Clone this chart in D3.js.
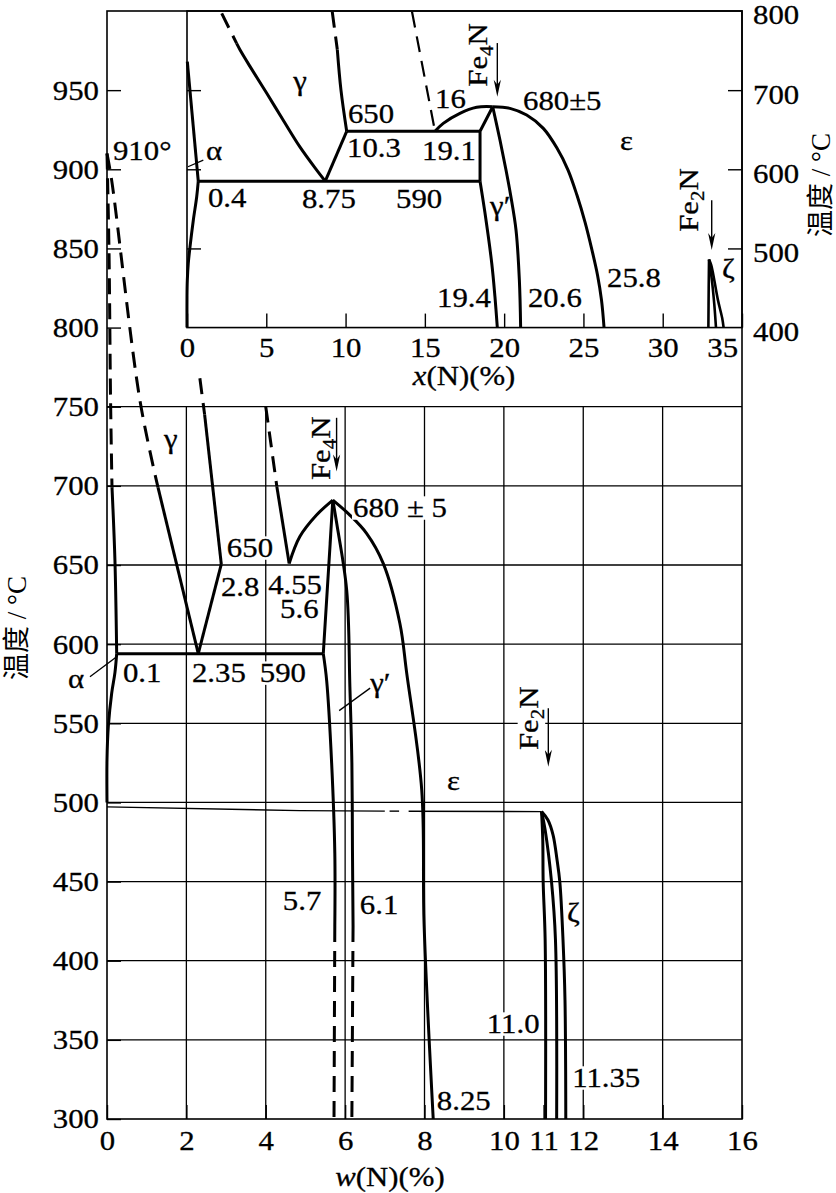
<!DOCTYPE html>
<html><head><meta charset="utf-8">
<script src="https://cdn.jsdelivr.net/npm/d3@7"></script>
<style>
body{margin:0;background:#fff}
svg{display:block}
text{font-family:"Liberation Serif",Tinos,"Times New Roman",Times,"Nimbus Roman","DejaVu Serif",serif;fill:#000;stroke:#000;stroke-width:0.3px}
text.cjk{font-family:"Liberation Serif","Noto Sans CJK SC",serif;stroke:none}
</style>
</head><body>
<svg id="c" width="836" height="1193"></svg>
<script>
// ================= DATA =================
// main diagram axes
const wTicks = [0, 2, 4, 6, 8, 10, 11, 12, 14, 16];
const wGrid = [2, 4, 6, 8, 10, 12, 14];
const tMainTicks = [300, 350, 400, 450, 500, 550, 600, 650, 700, 750, 800, 850, 900, 950];
const tGrid = [350, 400, 450, 500, 550, 600, 650, 700, 750];
// inset axes
const xInsetTicks = [0, 5, 10, 15, 20, 25, 30, 35];
const tInsetTicks = [400, 500, 600, 700, 800];
const tInsetInner = [500, 600, 700];

// ---- main diagram boundaries: [w(N) %, T °C] ----
const mA_dash = [[0, 910], [0.05, 849], [0.09, 754], [0.126, 699]];
const mA_solid = [[0.126, 699], [0.2, 653], [0.244, 594]];
const mAlphaSolvus = [[0.244, 594], [0.2, 582], [0.118, 569], [0.033, 548], [0, 527], [0, 500]];
const mEutectoid = [[0.244, 594], [5.45, 594]];
const mB_dash = [[0, 910], [0.118, 893], [0.83, 754], [1.285, 699]];
const mB_solid = [[1.285, 699], [2.3, 594]];
const mC_dash = [[2.34, 768], [2.46, 745]];
const mC_solid = [[2.46, 745], [2.88, 650.5]];
const mC_low = [[2.88, 650.5], [2.3, 594]];
const mD_dash = [[4.0, 750], [4.28, 699.5]];
const mD_solid = [[4.28, 699.5], [4.59, 651]];
const mEpsArch = [[4.59, 651], [4.86, 668], [5.28, 681.6], [5.69, 691]];
const mGpLeftUp = [[5.69, 691], [5.45, 594]];
const mGpLeft = [[5.45, 594], [5.535, 577], [5.66, 525], [5.74, 468], [5.74, 422]];
const mGpLeftDash = [[5.74, 422], [5.72, 300]];
const mGpRight = [[5.69, 691], [5.79, 676], [6.04, 634], [6.12, 573], [6.17, 525], [6.185, 470], [6.2, 422]];
const mGpRightDash = [[6.2, 422], [6.17, 300]];
const mEpsRight = [[5.69, 691], [6.1, 682], [6.54, 670], [6.96, 651], [7.38, 613], [7.55, 582], [7.93, 508], [7.99, 423], [8.22, 300]];
const m500 = [
  [[0, 497.2], [4.86, 494.8], [7.0, 494.5]],
  [[7.12, 494.5], [7.36, 494.5]],
  [[7.6, 494.4], [10.95, 494.2]]
];
const mZeta = [
  [[10.95, 494.2], [10.98, 476.3], [10.99, 449.9], [11.04, 413.1], [11.05, 300]],
  [[10.95, 494.2], [11.04, 482.6], [11.2, 449.9], [11.3, 413.1], [11.33, 300]],
  [[10.95, 494.2], [11.11, 488.9], [11.24, 479.4], [11.34, 463.6], [11.41, 449.7], [11.49, 413.1], [11.54, 375], [11.56, 300]]
];

// ---- inset boundaries: [x(N) %, T °C] ----
const iAlphaUp = [[0.02, 736], [0.71, 585]];
const iAlphaSolvus = [[0.71, 585], [0.61, 565], [0.4, 536], [0.19, 502], [0.08, 481], [0.02, 460], [0, 440], [0, 400]];
const iGammaLeftDash = [[2.19, 797], [3.13, 759]];
const iGammaLeft = [[3.13, 759], [3.34, 751], [3.97, 730], [5.03, 696], [6.07, 662], [7.13, 628], [8.18, 599], [8.72, 585]];
const iGammaRightDash = [[9.16, 799], [9.48, 751]];
const iGammaRight = [[9.48, 751], [9.71, 700], [10.07, 648]];
const iGammaLow = [[10.07, 648], [8.72, 585]];
const iEutectoid = [[0.71, 585], [18.48, 585]];
const i650 = [[10.07, 648], [18.48, 648]];
const iEpsDash = [[14.19, 799], [15.64, 648]];
const iEpsArchL = [[15.64, 648], [16.16, 658], [17.21, 670.7], [18.27, 678.3], [19.28, 679]];
const iGpLeftUp = [[19.28, 679], [18.48, 648], [18.48, 585]];
const iGpLeftLow = [[18.48, 585], [18.79, 545], [19.22, 481], [19.42, 439], [19.57, 400]];
const iGpRight = [[19.28, 679], [19.74, 636.7], [20.12, 598.8], [20.41, 567.2], [20.75, 523], [20.96, 459.9], [21.04, 400]];
const iEpsRight = [[19.28, 679], [20.37, 677], [21.42, 668.5], [22.47, 651.7], [23.33, 626.8], [24.03, 599], [24.59, 567.4], [25.1, 533.2], [25.54, 497.8], [25.89, 466.2], [26.14, 434.6], [26.3, 400]];
const iZeta = [
  [[32.92, 486], [32.9, 450], [32.88, 400]],
  [[32.92, 486], [33.1, 460], [33.25, 430], [33.36, 400]],
  [[32.92, 486], [33.06, 479], [33.48, 435], [33.75, 412], [33.84, 400]]
];

// arrows [composition, T from, T to]
const arrowsMain = [[5.785, 743, 709], [11.12, 559.5, 522.6]];
const arrowsInset = [[19.57, 759.5, 691.7], [33.09, 561, 498]];
// leader lines
const leadersMain = [[[-0.43, 579.4], [0.244, 592.1]], [[5.85, 558], [6.63, 572.2]]];
const leadersInset = [[[0.06, 603.2], [1.03, 611.6]]];

// annotations [composition, T, text]
const notesMain = [
  [0.15, 906, "910°"], [1.61, 724, "γ"], [3.02, 655, "650"], [2.87, 630.4, "2.8"],
  [4.06, 631.7, "4.55"], [4.36, 616.5, "5.6"], [0.4, 576, "0.1"], [2.14, 576, "2.35"],
  [3.85, 576, "590"], [-0.98, 572.3, "α"], [6.2, 680.3, "680 ± 5"], [6.63, 569.8, "γ′"],
  [8.57, 507.8, "ε"], [11.59, 424.5, "ζ"], [4.43, 432, "5.7"], [6.37, 429.5, "6.1"],
  [9.57, 354.3, "11.0"], [11.72, 320.2, "11.35"], [8.31, 305.7, "8.25"]
];
const notesMainRot = [[5.62, 703.7, "Fe_4N"], [10.87, 533.1, "Fe_2N"]];
const notesInset = [
  [7.13, 700, "γ"], [10.15, 658.4, "650"], [10.09, 615.4, "10.3"], [1.2, 611.6, "α"],
  [1.32, 552.2, "0.4"], [7.25, 551, "8.75"], [13.18, 551, "590"], [15.64, 677.4, "16"],
  [14.82, 611.6, "19.1"], [21.19, 674.8, "680±5"], [27.31, 624.3, "ε"], [19.11, 542.1, "γ′"],
  [15.77, 425.8, "19.4"], [21.5, 425.8, "20.6"], [26.49, 451.1, "25.8"], [33.74, 463, "ζ"]
];
const notesInsetRot = [[18.9, 704.3, "Fe_4N"], [32.25, 521, "Fe_2N"]];
const yTitle = "温度 / °C";
const xTitleMain = ["w", "(N)(%)"];
const xTitleInset = ["x", "(N)(%)"];

// ================= DRAWING =================
const svg = d3.select('#c');
const SX = 1.1, FS = 28;
const x = d3.scaleLinear().domain([0, 16]).range([107, 742]);
const y = d3.scaleLinear().domain([300, 1000]).range([1119, 11]);
const xi = d3.scaleLinear().domain([0, 35]).range([187, 742]);
const yi = d3.scaleLinear().domain([400, 800]).range([y(800), y(1000)]);

// grid
const gGrid = svg.append('g').attr('stroke', '#000').attr('stroke-width', 1.3);
gGrid.selectAll('line.h').data(tGrid).join('line').attr('class', 'h')
  .attr('x1', x(0)).attr('x2', x(16)).attr('y1', d => y(d)).attr('y2', d => y(d));
gGrid.selectAll('line.v').data(wGrid).join('line').attr('class', 'v')
  .attr('x1', d => x(d)).attr('x2', d => x(d)).attr('y1', y(300)).attr('y2', y(750));

// frames
svg.append('rect').attr('x', x(0)).attr('y', y(1000)).attr('width', x(16) - x(0)).attr('height', y(300) - y(1000))
  .attr('fill', 'none').attr('stroke', '#000').attr('stroke-width', 1.6);
svg.append('rect').attr('x', xi(0)).attr('y', yi(800)).attr('width', xi(35) - xi(0)).attr('height', yi(400) - yi(800))
  .attr('fill', 'none').attr('stroke', '#000').attr('stroke-width', 1.6);

function styleAxis(g) {
  g.attr('font-family', null).attr('font-size', null);
  g.select('.domain').remove();
  g.selectAll('line').attr('stroke', '#000').attr('stroke-width', 1.4);
  g.selectAll('text').attr('font-size', FS).attr('fill', '#000')
    .attr('transform', `scale(${SX},1)`)
    .attr('x', function () { return (+d3.select(this).attr('x') || 0) / SX; });
}
// main axes
svg.append('g').attr('transform', `translate(${x(0)},0)`)
  .call(d3.axisLeft(y).tickValues(tMainTicks).tickSize(-14).tickPadding(8).tickFormat(d3.format('d')))
  .call(styleAxis);
svg.append('g').attr('transform', `translate(0,${y(300)})`)
  .call(d3.axisBottom(x).tickValues(wTicks).tickSize(-14).tickPadding(11).tickFormat(d3.format('d')))
  .call(styleAxis);
// inset axes
svg.append('g').attr('transform', `translate(0,${yi(400)})`)
  .call(d3.axisBottom(xi).tickValues(xInsetTicks).tickSize(-14).tickPadding(10).tickFormat(d3.format('d')))
  .call(styleAxis)
  .call(g => g.selectAll('text').attr('dx', d => d === 35 ? -18 : 0));
svg.append('g').attr('transform', `translate(${xi(0)},0)`)
  .call(d3.axisRight(yi).tickValues(tInsetInner).tickSize(14).tickFormat(''))
  .call(styleAxis);
svg.append('g').attr('transform', `translate(${xi(35)},0)`)
  .call(d3.axisRight(yi).tickValues(tInsetTicks).tickSize(-14).tickPadding(11).tickFormat(d3.format('d')))
  .call(styleAxis)
  .call(g => g.selectAll('text').attr('dy', '0.46em'))
  .call(g => g.selectAll('.tick').filter(d => d === 800 || d === 400).select('line').remove());

// curves
const gc = svg.append('g').attr('fill', 'none').attr('stroke', '#000').attr('stroke-linejoin', 'round');
function draw(data, xs, ys, opt = {}) {
  const ln = d3.line().x(d => xs(d[0])).y(d => ys(d[1])).curve(opt.smooth ? d3.curveCatmullRom.alpha(0.5) : d3.curveLinear);
  gc.append('path').attr('d', ln(data))
    .attr('stroke-width', opt.w || 3)
    .attr('stroke-dasharray', opt.dash ? '16,9' : null);
}
// main
draw(mA_dash, x, y, {dash: 1, smooth: 1});
draw(mA_solid, x, y, {smooth: 1});
draw(mAlphaSolvus, x, y, {smooth: 1});
draw(mEutectoid, x, y);
draw(mB_dash, x, y, {dash: 1, smooth: 1});
draw(mB_solid, x, y);
draw(mC_dash, x, y, {dash: 1});
draw(mC_solid, x, y);
draw(mC_low, x, y);
draw(mD_dash, x, y, {dash: 1});
draw(mD_solid, x, y);
draw(mEpsArch, x, y, {smooth: 1});
draw(mGpLeftUp, x, y);
draw(mGpLeft, x, y, {smooth: 1});
draw(mGpLeftDash, x, y, {dash: 1});
draw(mGpRight, x, y, {smooth: 1});
draw(mGpRightDash, x, y, {dash: 1});
draw(mEpsRight, x, y, {smooth: 1});
m500.forEach(s => draw(s, x, y, {w: 1.4}));
mZeta.forEach(s => draw(s, x, y, {smooth: 1}));
// inset
draw(iAlphaUp, xi, yi);
draw(iAlphaSolvus, xi, yi, {smooth: 1});
draw(iGammaLeftDash, xi, yi, {dash: 1});
draw(iGammaLeft, xi, yi, {smooth: 1});
draw(iGammaRightDash, xi, yi, {dash: 1});
draw(iGammaRight, xi, yi, {smooth: 1});
draw(iGammaLow, xi, yi);
draw(iEutectoid, xi, yi);
draw(i650, xi, yi);
draw(iEpsDash, xi, yi, {dash: 1, w: 2.2});
draw(iEpsArchL, xi, yi, {smooth: 1});
draw(iGpLeftUp, xi, yi);
draw(iGpLeftLow, xi, yi, {smooth: 1});
draw(iGpRight, xi, yi, {smooth: 1});
draw(iEpsRight, xi, yi, {smooth: 1});
iZeta.forEach(s => draw(s, xi, yi, {smooth: 1, w: 2.6}));

// leaders
const gl = svg.append('g').attr('stroke', '#000').attr('stroke-width', 1.3);
leadersMain.forEach(l => gl.append('line').attr('x1', x(l[0][0])).attr('y1', y(l[0][1])).attr('x2', x(l[1][0])).attr('y2', y(l[1][1])));
leadersInset.forEach(l => gl.append('line').attr('x1', xi(l[0][0])).attr('y1', yi(l[0][1])).attr('x2', xi(l[1][0])).attr('y2', yi(l[1][1])));

// arrows
function arrow(px, y1, y2) {
  const g = svg.append('g');
  g.append('line').attr('x1', px).attr('x2', px).attr('y1', y1).attr('y2', y2 - 6).attr('stroke', '#000').attr('stroke-width', 1.4);
  g.append('path').attr('d', `M${px - 3.6},${y2 - 17} L${px},${y2} L${px + 3.6},${y2 - 17} L${px},${y2 - 12} Z`).attr('fill', '#000');
}
arrowsMain.forEach(a => arrow(x(a[0]), y(a[1]), y(a[2])));
arrowsInset.forEach(a => arrow(xi(a[0]), yi(a[1]), yi(a[2])));

// text helpers
function rich(t, str) {
  if (str.includes('_')) {
    const [a, rest] = str.split('_');
    t.append('tspan').text(a);
    t.append('tspan').attr('font-size', FS * 0.68).attr('dy', 6).text(rest[0]);
    t.append('tspan').attr('dy', -6).text(rest.slice(1));
  } else t.text(str);
}
const bgSet = new Set(["650", "590", "680 ± 5", "11.0", "11.35", "Fe_2N"]);
function put(px, py, str, o = {}) {
  const g = svg.append('g').attr('transform', `translate(${px},${py})` + (o.rot ? ` rotate(${o.rot})` : '') + ` scale(${SX},1)`);
  const t = g.append('text').attr('font-size', o.size || FS).attr('text-anchor', o.anchor || 'start');
  rich(t, str);
  if (o.bg) {
    const b = t.node().getBBox();
    g.insert('rect', 'text').attr('x', b.x - 1).attr('y', b.y + 4).attr('width', b.width + 2).attr('height', b.height - 7).attr('fill', '#fff');
  }
  return t;
}
notesMain.forEach(n => put(x(n[0]), y(n[1]), n[2], {anchor: n[2] === 'γ' ? 'middle' : 'start', bg: bgSet.has(n[2]) && n[1] < 700}));
notesMainRot.forEach(n => put(x(n[0]), y(n[1]), n[2], {rot: -90, bg: bgSet.has(n[2])}));
notesInset.forEach(n => put(xi(n[0]), yi(n[1]), n[2], {anchor: n[2] === 'γ' ? 'middle' : 'start'}));
notesInsetRot.forEach(n => put(xi(n[0]), yi(n[1]), n[2], {rot: -90}));

// axis titles
function title(px, py, parts) {
  const t = svg.append('text').attr('transform', `translate(${px},${py}) scale(${SX},1)`).attr('font-size', FS).attr('text-anchor', 'middle');
  t.append('tspan').attr('font-style', 'italic').text(parts[0]);
  t.append('tspan').text(parts[1]);
}
title(390, 1186, xTitleMain);
title(464, 385, xTitleInset);
svg.append('text').attr('class', 'cjk').attr('transform', 'translate(17,628) rotate(-90)').attr('font-size', 27)
  .attr('text-anchor', 'middle').attr('dominant-baseline', 'central').text(yTitle);
svg.append('text').attr('class', 'cjk').attr('transform', 'translate(821,185) rotate(-90)').attr('font-size', 27)
  .attr('text-anchor', 'middle').attr('dominant-baseline', 'central').text(yTitle);
</script>
</body></html>
